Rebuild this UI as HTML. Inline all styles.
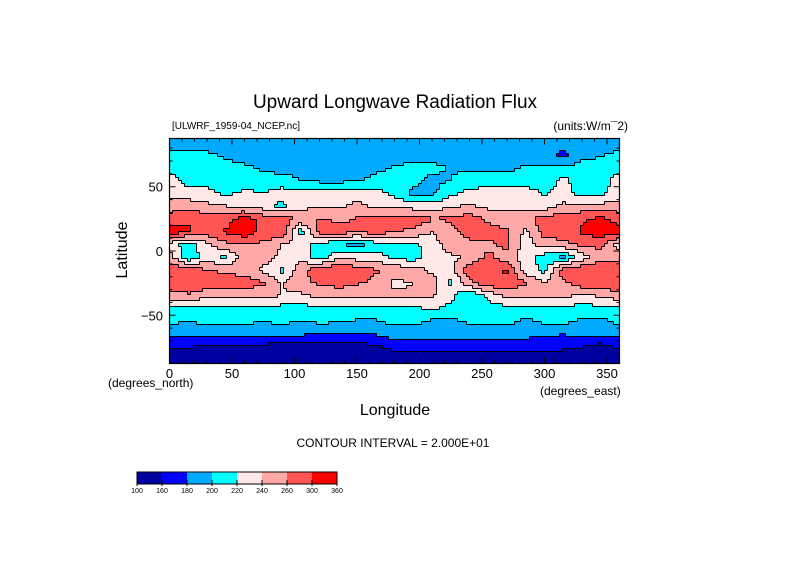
<!DOCTYPE html>
<html><head><meta charset="utf-8">
<style>
body{margin:0;background:#fff;width:789px;height:558px;overflow:hidden;font-family:"Liberation Sans",sans-serif;}
svg text{font-family:"Liberation Sans",sans-serif;fill:#000;}
</style></head>
<body>
<svg id="chart" width="789" height="558" viewBox="0 0 789 558" xmlns="http://www.w3.org/2000/svg">
<text x="395" y="108" font-size="19" text-anchor="middle">Upward Longwave Radiation Flux</text>
<text x="172" y="129" font-size="10">[ULWRF_1959-04_NCEP.nc]</text>
<text x="628" y="130" font-size="12" text-anchor="end">(units:W/m¯2)</text>
<g id="field"></g>
<path id="contours" fill="none" stroke="#000" stroke-width="1"></path>
<rect x="169.5" y="138.5" width="450" height="225" fill="none" stroke="#000" stroke-width="1.2"/>
<g id="ticks" stroke="#000" stroke-width="1"></g>
<g id="xlabels" font-size="13" text-anchor="middle"></g>
<g id="ylabels" font-size="13" text-anchor="end"></g>
<text x="108" y="387" font-size="12">(degrees_north)</text>
<text x="540" y="395" font-size="12">(degrees_east)</text>
<text x="395" y="415" font-size="16" text-anchor="middle">Longitude</text>
<text x="0" y="0" font-size="16" text-anchor="middle" transform="translate(127,250) rotate(-90)">Latitude</text>
<text x="393" y="447" font-size="12" text-anchor="middle">CONTOUR INTERVAL = 2.000E+01</text>
<g id="cbar"></g>
</svg>
<script>
const lats=[85,75,65,55,45,35,25,15,5,-5,-15,-25,-35,-45,-55,-65,-75,-85];
const lons=[0,15,30,45,60,75,90,105,120,135,150,165,180,195,210,225,240,255,270,285,300,315,330,345];
const row85=[190,190,190,190,190,190,190,190,190,190,190,190,190,190,190,190,190,190,190,190,190,190,190,190];
const row75=[205,203,203,197,195,195,190,190,188,185,180,190,190,190,190,190,192,190,190,190,185,175,195,198];
const row65=[210,210,205,205,202,198,195,195,193,190,190,195,202,205,205,198,195,195,195,202,203,205,205,210];
const row55=[230,210,210,205,205,205,205,200,195,195,198,205,210,205,195,200,210,210,210,210,210,225,210,210];
const row45=[230,230,228,215,225,220,230,232,230,228,230,228,215,195,195,215,225,228,230,230,218,225,215,215];
const row35=[250,250,245,240,235,230,215,232,240,235,245,235,235,230,228,238,242,235,235,232,230,245,245,245];
const row25=[270,278,272,272,290,272,270,255,262,255,262,270,268,272,262,262,272,255,250,255,268,272,278,285];
const row15=[290,282,272,282,292,272,278,210,270,270,262,270,262,255,240,255,268,270,262,235,270,272,282,292];
const row5=[230,210,235,255,260,255,240,235,210,205,190,210,210,215,230,250,255,255,265,230,250,252,265,265];
const rowm5=[250,205,230,215,255,250,235,232,210,235,232,230,215,210,230,235,245,265,250,230,210,195,230,255];
const rowm15=[278,272,262,255,252,235,215,255,272,278,272,262,255,250,235,232,272,278,282,230,215,272,278,278];
const rowm25=[278,278,272,272,270,262,240,255,262,268,262,255,235,240,250,215,255,272,272,262,240,255,272,272];
const rowm35=[250,255,245,245,245,245,238,235,245,245,248,245,245,245,242,228,198,225,245,248,245,245,235,242];
const rowm45=[215,212,212,212,212,212,212,212,212,212,212,212,212,212,225,212,222,212,212,210,210,212,212,212];
const rowm55=[205,198,205,203,205,198,205,198,203,202,198,198,205,205,195,195,203,205,205,195,203,205,195,195];
const rowm65=[185,186,188,188,188,188,186,182,178,176,178,180,188,190,190,190,188,185,185,185,182,180,185,185];
const rowm75=[165,162,150,150,150,150,150,150,150,150,150,155,168,168,168,168,168,168,168,168,165,165,160,150];
const rowm85=[135,135,135,135,135,135,135,135,135,135,135,135,140,140,140,140,140,140,140,140,140,140,140,140];
const grid=[row85,row75,row65,row55,row45,row35,row25,row15,row5,rowm5,rowm15,rowm25,rowm35,rowm45,rowm55,rowm65,rowm75,rowm85];
const levels=[160,180,200,220,240,260,280];
const colors=['#0000a0','#0000ff','#00aaff','#00ffff','#ffe8e8','#ffa8a8','#ff5555','#ff0000'];
const cbLabels=['100','160','180','200','220','240','260','300','360'];
const xTicks=[0,50,100,150,200,250,300,350];
const yTicks=[50,0,-50];

const X0=169.5,X1=619.5,Y0=138.5,Y1=363.5,LATTOP=87.5,LATBOT=-87.5;
const xs=lon=>X0+(lon/360)*(X1-X0);
const ys=lat=>Y0+(LATTOP-lat)/(LATTOP-LATBOT)*(Y1-Y0);
const NS='http://www.w3.org/2000/svg';
function val(lon,lat){
  let fi=(lats[0]-lat)/10; fi=Math.max(0,Math.min(lats.length-1,fi));
  const i0=Math.floor(fi),i1=Math.min(lats.length-1,i0+1),ti=fi-i0;
  let fj=((lon%360)+360)%360/15;
  const j0=Math.floor(fj)%lons.length,j1=(j0+1)%lons.length,tj=fj-Math.floor(fj);
  const a=grid[i0][j0]*(1-tj)+grid[i0][j1]*tj;
  const b=grid[i1][j0]*(1-tj)+grid[i1][j1]*tj;
  return a*(1-ti)+b*ti;
}
function lev(v){let k=0;while(k<levels.length&&v>=levels[k])k++;return k;}
const field=document.getElementById('field');
const C=3,nx=Math.round((X1-X0)/C),ny=Math.round((Y1-Y0)/C);
const L=[];
for(let r=0;r<ny;r++){L.push([]);for(let c=0;c<nx;c++){
  const lon=(c+0.5)*C/(X1-X0)*360, lat=LATTOP-(r+0.5)*C/(Y1-Y0)*(LATTOP-LATBOT);
  L[r].push(lev(val(lon,lat)));}}
for(let r=0;r<ny;r++){let c=0;while(c<nx){let e=c;while(e+1<nx&&L[r][e+1]===L[r][c])e++;
  const rc=document.createElementNS(NS,'rect');
  rc.setAttribute('x',X0+c*C);rc.setAttribute('y',Y0+r*C);
  rc.setAttribute('width',(e-c+1)*C+0.3);rc.setAttribute('height',C+0.3);
  rc.setAttribute('fill',colors[L[r][c]]);
  
  
  field.appendChild(rc);c=e+1;}}
let d='';
for(let r=0;r<ny;r++)for(let c=0;c<nx;c++){
  if(c+1<nx&&L[r][c+1]!==L[r][c]){const x=X0+(c+1)*C;d+=`M${x} ${Y0+r*C}v${C}`;}
  if(r+1<ny&&L[r+1][c]!==L[r][c]){const y=Y0+(r+1)*C;d+=`M${X0+c*C} ${y}h${C}`;}}
document.getElementById('contours').setAttribute('d',d);
const tk=document.getElementById('ticks');let td='';
for(let lon=0;lon<=360;lon+=10){const x=xs(lon),h=lon%50===0?6:3;td+=`M${x} ${Y1}v${-h}M${x} ${Y0}v${h}`;}
for(let lat=-80;lat<=80;lat+=10){const y=ys(lat),h=lat%50===0?6:3;td+=`M${X0} ${y}h${h}M${X1} ${y}h${-h}`;}
const tp=document.createElementNS(NS,'path');tp.setAttribute('d',td);


tk.appendChild(tp);
const xl=document.getElementById('xlabels');
xTicks.forEach(v=>{const t=document.createElementNS(NS,'text');t.setAttribute('x',xs(v));t.setAttribute('y',378);t.textContent=v;
  
  
  xl.appendChild(t);});
const yl=document.getElementById('ylabels');
yTicks.forEach(v=>{const t=document.createElementNS(NS,'text');t.setAttribute('x',163);t.setAttribute('y',ys(v)+5);t.textContent=v===0?'0':(v<0?'−'+(-v):v);
  
  
  yl.appendChild(t);});
const cb=document.getElementById('cbar');const cbx=137,cbw=25,cby=472,cbh=12;
colors.forEach((col,i)=>{const r=document.createElementNS(NS,'rect');r.setAttribute('x',cbx+i*cbw);r.setAttribute('y',cby);r.setAttribute('width',cbw);r.setAttribute('height',cbh);r.setAttribute('fill',col);
  
  
  cb.appendChild(r);});
const fr=document.createElementNS(NS,'rect');fr.setAttribute('x',cbx);fr.setAttribute('y',cby);fr.setAttribute('width',cbw*colors.length);fr.setAttribute('height',cbh);fr.setAttribute('fill','none');fr.setAttribute('stroke','#000');


cb.appendChild(fr);
cbLabels.forEach((s,i)=>{const x=cbx+i*cbw;
  const ln=document.createElementNS(NS,'path');ln.setAttribute('d',`M${x} ${cby+cbh-4}v6`);ln.setAttribute('stroke','#000');
  
  
  cb.appendChild(ln);
  const t=document.createElementNS(NS,'text');t.setAttribute('x',x);t.setAttribute('y',cby+cbh+9);t.setAttribute('font-size','7');t.setAttribute('text-anchor','middle');t.textContent=s;
  
  
  cb.appendChild(t);});
</script>
</body></html>
